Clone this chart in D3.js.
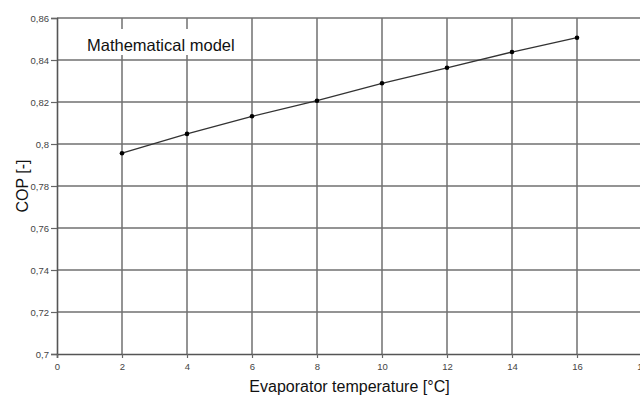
<!DOCTYPE html>
<html>
<head>
<meta charset="utf-8">
<script src="https://cdn.jsdelivr.net/npm/d3@7"></script>
<style>
  body { margin: 0; background: #fff; }
  svg { display: block; font-family: "Liberation Sans", Arial, sans-serif; }
</style>
</head>
<body>
<div class="chart"></div>
<script>
// values
var temps = [2, 4, 6, 8, 10, 12, 14, 16];
var cop = [0.7956, 0.8048, 0.8132, 0.8206, 0.8289, 0.8363, 0.8438, 0.8506];
var xTicks = [0, 2, 4, 6, 8, 10, 12, 14, 16, 18];
var yTicks = [0.7, 0.72, 0.74, 0.76, 0.78, 0.8, 0.82, 0.84, 0.86];

var opts = {
  width: 640,
  height: 397,
  left: 57,
  right: 642,
  top: 18,
  bottom: 354
};

var x = d3.scaleLinear().domain([0, 18]).range([opts.left, opts.right]);
var y = d3.scaleLinear().domain([0.7, 0.86]).range([opts.bottom, opts.top]);

var fmt = function(v) { return String(+v.toFixed(2)).replace('.', ','); };

var svg = d3.select('.chart').append('svg')
  .attr('width', opts.width).attr('height', opts.height);

// grid
svg.append('g').selectAll('line').data(xTicks.slice(1)).enter().append('line')
  .attr('x1', d => x(d)).attr('x2', d => x(d))
  .attr('y1', opts.top).attr('y2', opts.bottom)
  .attr('stroke', '#707070').attr('stroke-width', 1.5);
svg.append('g').selectAll('line').data(yTicks.slice(1)).enter().append('line')
  .attr('x1', opts.left).attr('x2', opts.right)
  .attr('y1', d => y(d)).attr('y2', d => y(d))
  .attr('stroke', '#707070').attr('stroke-width', 1.5);

// axes
var yAxis = svg.append('g').attr('transform', `translate(${opts.left},0)`)
  .call(d3.axisLeft(y).tickValues(yTicks).tickFormat(fmt).tickSize(6).tickPadding(2));
var xAxis = svg.append('g').attr('transform', `translate(0,${opts.bottom})`)
  .call(d3.axisBottom(x).tickValues(xTicks).tickFormat(fmt).tickSize(4).tickPadding(5));
[yAxis, xAxis].forEach(function(a) {
  a.select('.domain').attr('stroke', '#555').attr('stroke-width', 1.6);
  a.selectAll('.tick line').attr('stroke', '#666').attr('stroke-width', 1.2);
  a.selectAll('.tick text').attr('fill', '#444').style('font-size', '9.5px');
});

// label box
svg.append('rect').attr('x', 80).attr('y', 29).attr('width', 162).attr('height', 26).attr('fill', '#fff');
svg.append('text').attr('x', 87).attr('y', 51)
  .attr('fill', '#111').style('font-size', '16.5px').text('Mathematical model');

// series
var line = d3.line().x((d, i) => x(temps[i])).y(d => y(d));
svg.append('path').datum(cop).attr('d', line)
  .attr('fill', 'none').attr('stroke', '#333').attr('stroke-width', 1.3);
svg.append('g').selectAll('circle').data(cop).enter().append('circle')
  .attr('cx', (d, i) => x(temps[i])).attr('cy', d => y(d)).attr('r', 2.3).attr('fill', '#000');

// axis titles
svg.append('text').attr('x', (opts.left + opts.right) / 2).attr('y', 392)
  .attr('text-anchor', 'middle').attr('fill', '#111').style('font-size', '16px')
  .text('Evaporator temperature [°C]');
svg.append('text').attr('transform', 'translate(28,' + (opts.top + opts.bottom) / 2 + ') rotate(-90)')
  .attr('text-anchor', 'middle').attr('fill', '#111').style('font-size', '16px')
  .text('COP [-]');
</script>
</body>
</html>
